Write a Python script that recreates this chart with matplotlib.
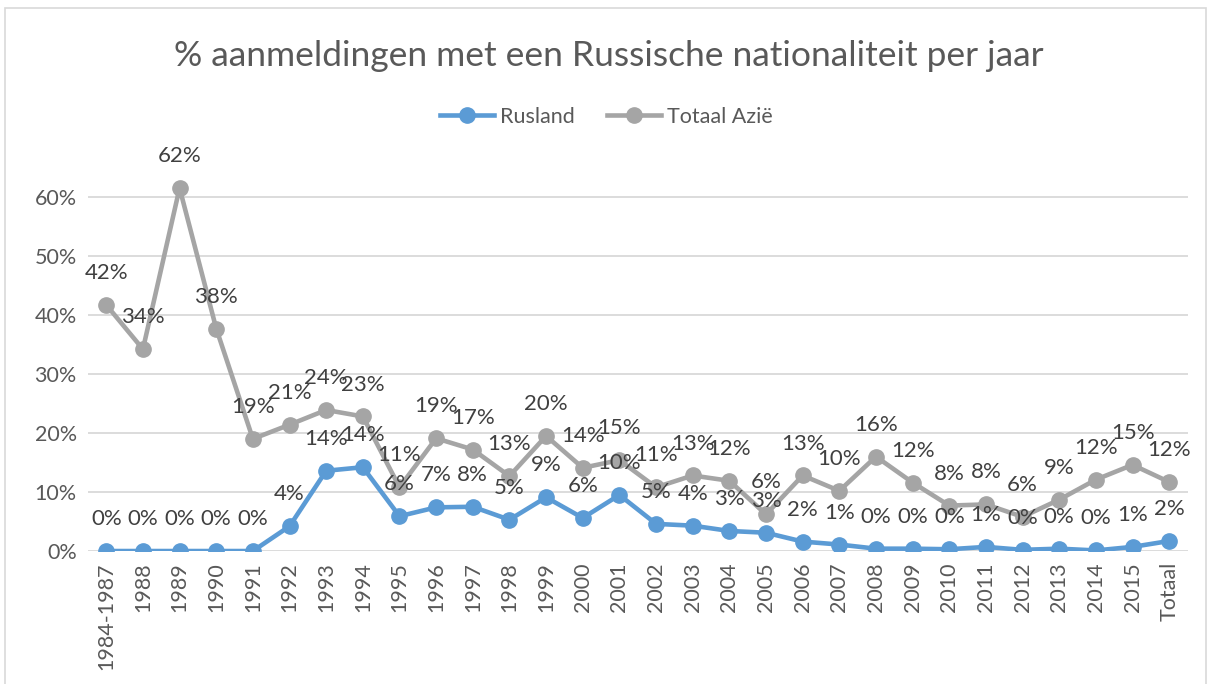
import numpy as np
import matplotlib
matplotlib.use("Agg")
import matplotlib.pyplot as plt
from matplotlib.patches import Rectangle
from matplotlib.ticker import PercentFormatter

plt.rcParams['font.family'] = ['Lato', 'DejaVu Sans']

jaren = ['1984-1987'] + [str(j) for j in range(1988, 2016)] + ['Totaal']

# aandeel Rusland
rusland = [0.0, 0.0, 0.0, 0.0, 0.0, 0.042, 0.136, 0.142, 0.059, 0.074,
           0.075, 0.053, 0.091, 0.056, 0.095, 0.046, 0.043, 0.034, 0.031, 0.016,
           0.011, 0.004, 0.004, 0.003, 0.007, 0.002, 0.004, 0.001, 0.007, 0.017]

# aandeel totaal Azie
azie = [0.417, 0.342, 0.615, 0.377, 0.190, 0.214, 0.239, 0.228, 0.108, 0.191,
        0.172, 0.127, 0.195, 0.141, 0.154, 0.108, 0.128, 0.119, 0.062, 0.128,
        0.102, 0.160, 0.116, 0.077, 0.079, 0.058, 0.087, 0.121, 0.146, 0.117]

blauw = '#5B9BD5'
grijs = '#A5A5A5'
tekst = '#595959'

fig = plt.figure(figsize=(12.13, 6.84), dpi=100)
fig.patches.append(Rectangle((0.004, -0.01), 0.99, 0.998, transform=fig.transFigure,
                             fill=False, edgecolor='#D9D9D9', linewidth=1.2))
ax = fig.add_axes([0.0725, 0.1944, 0.9065, 0.604])

x = np.arange(len(jaren))
ax.plot(x, rusland, color=blauw, lw=3.3, marker='o', ms=11, label='Rusland', zorder=3)
ax.plot(x, azie, color=grijs, lw=3.3, marker='o', ms=11, label='Totaal Azië', zorder=3)

for serie in (rusland, azie):
    for xi, v in zip(x, serie):
        ax.annotate(f'{round(v * 100):.0f}%', (xi, v), xytext=(0, 23),
                    textcoords='offset points', ha='center', va='center',
                    fontsize=16, color='#404040')

ax.set_xlim(-0.5, len(jaren) - 0.5)
ax.set_ylim(0, 0.7)
ax.set_yticks(np.arange(0, 0.61, 0.1))
ax.yaxis.set_major_formatter(PercentFormatter(1.0, decimals=0))
ax.set_xticks(x)
ax.set_xticklabels(jaren, rotation=90)
ax.tick_params(axis='both', length=0, labelsize=15.5, colors=tekst, pad=8)
ax.grid(axis='y', color='#D9D9D9', lw=1.3)
ax.set_axisbelow(True)
for s in ax.spines.values():
    s.set_visible(False)

fig.text(0.502, 0.918, '% aanmeldingen met een Russische nationaliteit per jaar',
         ha='center', va='center', fontsize=25.5, color=tekst)
fig.legend(loc='center', bbox_to_anchor=(0.5, 0.829), ncol=2, frameon=False,
           fontsize=15.5, labelcolor=tekst, handlelength=2.5, columnspacing=1.5,
           handletextpad=0.3)

fig.savefig('out.png', dpi=100)
